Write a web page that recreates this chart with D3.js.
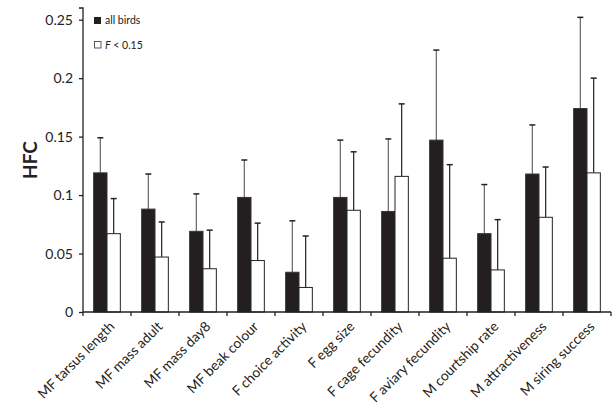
<!DOCTYPE html>
<html>
<head>
<meta charset="utf-8">
<script src="https://cdn.jsdelivr.net/npm/d3@7"></script>
<style>
  body { margin: 0; background: #fff; }
  text { font-family: Lato, "Open Sans", sans-serif; fill: #222; }
</style>
</head>
<body>
<script>
var w = 612, h = 407;
var margin = {"left": 83, "right": 1, "top": 8, "bottom": 95};

var categories = ["MF tarsus length", "MF mass adult", "MF mass day8", "MF beak colour",
    "F choice activity", "F egg size", "F cage fecundity", "F aviary fecundity",
    "M courtship rate", "M attractiveness", "M siring success"];
var allBirds    = [0.119, 0.088, 0.069, 0.098, 0.034, 0.098, 0.086, 0.147, 0.067, 0.118, 0.174];
var allBirdsErr = [0.030, 0.030, 0.032, 0.032, 0.044, 0.049, 0.062, 0.077, 0.042, 0.042, 0.078];
var lowF        = [0.067, 0.047, 0.037, 0.044, 0.021, 0.087, 0.116, 0.046, 0.036, 0.081, 0.119];
var lowFErr     = [0.030, 0.030, 0.033, 0.032, 0.044, 0.050, 0.062, 0.080, 0.043, 0.043, 0.081];
var yTicks = [0, 0.05, 0.1, 0.15, 0.2, 0.25];
var yTickLabels = ["0", "0.05", "0.1", "0.15", "0.2", "0.25"];

var svg = d3.select("body").append("svg")
    .attr("width", w)
    .attr("height", h);

var xScale = d3.scaleBand()
    .domain(categories)
    .range([margin.left, w - margin.right]);

var inner = d3.scaleBand()
    .domain(["all", "low"])
    .range([0, xScale.bandwidth()])
    .paddingOuter(0.8)
    .paddingInner(0);

var yScale = d3.scaleLinear()
    .domain([0, 0.26])
    .range([h - margin.bottom, margin.top]);

// bars + error bars
var series = [
    {key: "all", vals: allBirds, errs: allBirdsErr, fill: "#231f20", stroke: "#333", err: "#666"},
    {key: "low", vals: lowF, errs: lowFErr, fill: "#fff", stroke: "#222", err: "#222"}
];

series.forEach(function(s){
    var g = svg.append("g").attr("class", "series-" + s.key);
    g.selectAll("line.err")
        .data(s.vals)
        .enter()
        .append("line")
        .attr("x1", function(d,i){ return xScale(categories[i]) + inner(s.key) + inner.bandwidth()/2; })
        .attr("x2", function(d,i){ return xScale(categories[i]) + inner(s.key) + inner.bandwidth()/2; })
        .attr("y1", function(d){ return yScale(d); })
        .attr("y2", function(d,i){ return yScale(d + s.errs[i]); })
        .attr("stroke", s.err)
        .attr("stroke-width", 1.2);
    g.selectAll("line.cap")
        .data(s.vals)
        .enter()
        .append("line")
        .attr("x1", function(d,i){ return xScale(categories[i]) + inner(s.key) + inner.bandwidth()/2 - 3; })
        .attr("x2", function(d,i){ return xScale(categories[i]) + inner(s.key) + inner.bandwidth()/2 + 3; })
        .attr("y1", function(d,i){ return yScale(d + s.errs[i]); })
        .attr("y2", function(d,i){ return yScale(d + s.errs[i]); })
        .attr("stroke", "#222")
        .attr("stroke-width", 1.5);
    g.selectAll("rect")
        .data(s.vals)
        .enter()
        .append("rect")
        .attr("x", function(d,i){ return xScale(categories[i]) + inner(s.key); })
        .attr("y", function(d){ return yScale(d); })
        .attr("width", inner.bandwidth())
        .attr("height", function(d){ return yScale(0) - yScale(d); })
        .attr("fill", s.fill)
        .attr("stroke", s.stroke)
        .attr("stroke-width", 1);
});

// y axis
var yAxis = d3.axisLeft(yScale)
    .tickValues(yTicks)
    .tickFormat(function(d,i){ return yTickLabels[i]; })
    .tickSize(4)
    .tickPadding(6);

var yg = svg.append("g")
    .attr("transform", "translate(" + margin.left + ",0)")
    .call(yAxis);
yg.select(".domain").attr("stroke", "#222").attr("stroke-width", 1.3).attr("d", "M-4," + yScale(0.26) + "H0V" + yScale(0));
yg.selectAll(".tick line").attr("stroke", "#222").attr("stroke-width", 1.3);
yg.selectAll(".tick text").style("font-size", "14px").attr("fill", "#333");

// x axis
var xAxis = d3.axisBottom(xScale)
    .tickSize(0)
    .tickFormat("");
var xg = svg.append("g")
    .attr("transform", "translate(0," + yScale(0) + ")")
    .call(xAxis);
xg.select(".domain").attr("stroke", "#222").attr("stroke-width", 1.3).attr("d", "M" + margin.left + ",0H" + (w - margin.right));

// category tick marks at band boundaries
var bounds = categories.map(function(c){ return xScale(c); }).concat([xScale(categories[categories.length-1]) + xScale.bandwidth()]);
xg.selectAll("line.bnd")
    .data(bounds)
    .enter()
    .append("line")
    .attr("x1", function(d){ return d; })
    .attr("x2", function(d){ return d; })
    .attr("y1", 0)
    .attr("y2", 4)
    .attr("stroke", "#222")
    .attr("stroke-width", 1.3);

xg.selectAll("text.cat")
    .data(categories)
    .enter()
    .append("text")
    .attr("class", "cat")
    .attr("transform", function(d){
        return "translate(" + (xScale(d) + xScale.bandwidth()/2 + 5) + ",12) rotate(-45)";
    })
    .attr("text-anchor", "end")
    .attr("dy", "0.35em")
    .style("font-size", "13.8px")
    .attr("fill", "#333")
    .text(function(d){ return d; });

// y label
svg.append("text")
    .attr("transform", "translate(37," + yScale(0.13) + ") rotate(-90)")
    .attr("text-anchor", "middle")
    .style("font-size", "19px")
    .style("font-weight", "bold")
    .text("HFC");

// legend
var legend = svg.append("g").attr("transform", "translate(94,17)");
legend.append("rect")
    .attr("x", 0).attr("y", 0).attr("width", 7).attr("height", 7)
    .attr("fill", "#231f20");
legend.append("text")
    .attr("x", 11).attr("y", 7)
    .style("font-size", "10.5px")
    .text("all birds");
legend.append("rect")
    .attr("x", 0.5).attr("y", 24.5).attr("width", 6.5).attr("height", 6.5)
    .attr("fill", "#fff").attr("stroke", "#333").attr("stroke-width", 0.8);
var lt = legend.append("text")
    .attr("x", 11).attr("y", 31.5)
    .style("font-size", "10.5px");
lt.append("tspan").style("font-style", "italic").text("F");
lt.append("tspan").text(" < 0.15");
</script>
</body>
</html>
